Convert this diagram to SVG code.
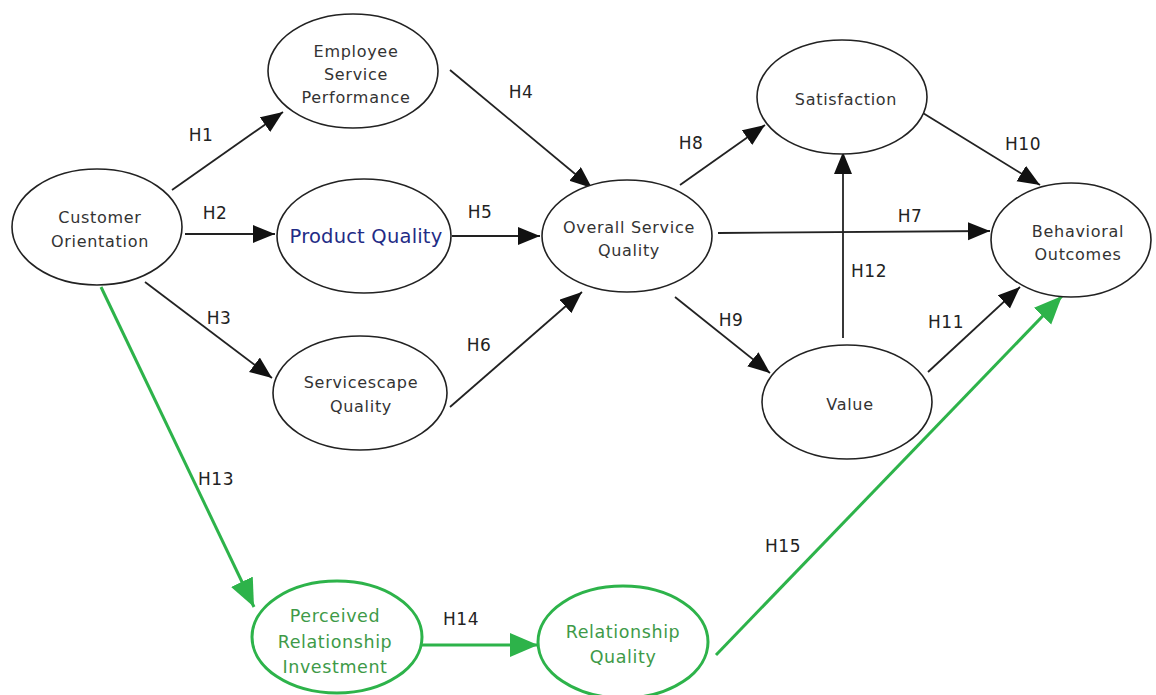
<svg xmlns="http://www.w3.org/2000/svg" width="1156" height="695" viewBox="0 0 1156 695">
  <defs>
    <style>
      .node { fill: #ffffff; stroke: #222222; stroke-width: 1.6; }
      .gnode { fill: #ffffff; stroke: #2db34a; stroke-width: 3; }
      .lbl { font-family: "DejaVu Sans", Verdana, sans-serif; font-size: 16px; fill: #333333; text-anchor: middle; letter-spacing: 0.7px; }
      .glbl { font-family: "DejaVu Sans", Verdana, sans-serif; font-size: 17.5px; fill: #3e9a48; text-anchor: middle; letter-spacing: 0.6px; }
      .h { font-family: "DejaVu Sans", Verdana, sans-serif; font-size: 17px; fill: #222222; text-anchor: middle; letter-spacing: 0.5px; }
      .edge { stroke: #222222; stroke-width: 1.8; fill: none; marker-end: url(#arrow); }
      .gedge { stroke: #2db34a; stroke-width: 3; fill: none; marker-end: url(#garrow); }
    </style>
    <marker id="arrow" markerUnits="userSpaceOnUse" markerWidth="24" markerHeight="20" refX="22" refY="9" orient="auto">
      <path d="M0,0 L22,9 L0,18 z" fill="#111111"/>
    </marker>
    <marker id="garrow" markerUnits="userSpaceOnUse" markerWidth="30" markerHeight="26" refX="28" refY="12" orient="auto">
      <path d="M0,0 L28,12 L0,24 z" fill="#2db34a"/>
    </marker>
  </defs>
  <rect width="1156" height="695" fill="#ffffff"/>

  <!-- connectors -->
  <g id="connectors">
    <line class="edge" x1="172" y1="190" x2="283" y2="112"/>
    <line class="edge" x1="185" y1="234" x2="275" y2="234"/>
    <line class="edge" x1="145" y1="282" x2="272" y2="378"/>
    <line class="edge" x1="450" y1="70" x2="592" y2="188"/>
    <line class="edge" x1="452" y1="236" x2="540" y2="236"/>
    <line class="edge" x1="450" y1="407" x2="582" y2="292"/>
    <line class="edge" x1="680" y1="185" x2="765" y2="125"/>
    <line class="edge" x1="718" y1="233" x2="990" y2="231"/>
    <line class="edge" x1="675" y1="297" x2="770" y2="373"/>
    <line class="edge" x1="905" y1="102" x2="1040" y2="185"/>
    <line class="edge" x1="843" y1="338" x2="843" y2="152"/>
    <line class="edge" x1="928" y1="372" x2="1020" y2="287"/>
    <line class="gedge" x1="101" y1="287" x2="254" y2="607"/>
    <line class="gedge" x1="422" y1="645" x2="538" y2="645"/>
    <line class="gedge" x1="716" y1="655" x2="1062" y2="296"/>

    <text class="h" x="201" y="141">H1</text>
    <text class="h" x="215" y="219">H2</text>
    <text class="h" x="219" y="324">H3</text>
    <text class="h" x="521" y="98">H4</text>
    <text class="h" x="480" y="218">H5</text>
    <text class="h" x="479" y="351">H6</text>
    <text class="h" x="691" y="149">H8</text>
    <text class="h" x="910" y="222">H7</text>
    <text class="h" x="731" y="326">H9</text>
    <text class="h" x="1023" y="150">H10</text>
    <text class="h" x="869" y="277">H12</text>
    <text class="h" x="946" y="328">H11</text>
    <text class="h" x="216" y="485">H13</text>
    <text class="h" x="461" y="625">H14</text>
    <text class="h" x="783" y="552">H15</text>
  </g>

  <g id="customer-orientation">
    <ellipse class="node" cx="97" cy="227" rx="85" ry="58"/>
    <text class="lbl" x="100" y="223">Customer</text>
    <text class="lbl" x="100" y="247">Orientation</text>
  </g>

  <g id="employee-service-performance">
    <ellipse class="node" cx="353" cy="71" rx="85" ry="57"/>
    <text class="lbl" x="356" y="57">Employee</text>
    <text class="lbl" x="356" y="80">Service</text>
    <text class="lbl" x="356" y="103">Performance</text>
  </g>

  <g id="product-quality">
    <ellipse class="node" cx="364" cy="236" rx="87" ry="57" stroke-width="2.4"/>
    <text class="lbl" x="366" y="243" style="font-size:19.5px; fill:#1f2c86; letter-spacing:0.2px">Product Quality</text>
  </g>

  <g id="servicescape-quality">
    <ellipse class="node" cx="360" cy="393" rx="87" ry="57"/>
    <text class="lbl" x="361" y="388">Servicescape</text>
    <text class="lbl" x="361" y="412">Quality</text>
  </g>

  <g id="overall-service-quality">
    <ellipse class="node" cx="627" cy="236" rx="85" ry="56"/>
    <text class="lbl" x="629" y="233">Overall Service</text>
    <text class="lbl" x="629" y="256">Quality</text>
  </g>

  <g id="satisfaction">
    <ellipse class="node" cx="842" cy="97" rx="85" ry="57"/>
    <text class="lbl" x="846" y="105">Satisfaction</text>
  </g>

  <g id="value">
    <ellipse class="node" cx="847" cy="402" rx="85" ry="57"/>
    <text class="lbl" x="850" y="410">Value</text>
  </g>

  <g id="behavioral-outcomes">
    <ellipse class="node" cx="1071" cy="240" rx="80" ry="57"/>
    <text class="lbl" x="1078" y="237">Behavioral</text>
    <text class="lbl" x="1078" y="260">Outcomes</text>
  </g>

  <g id="perceived-relationship-investment">
    <ellipse class="gnode" cx="337" cy="637" rx="85" ry="56"/>
    <text class="glbl" x="335" y="622">Perceived</text>
    <text class="glbl" x="335" y="648">Relationship</text>
    <text class="glbl" x="335" y="673">Investment</text>
  </g>

  <g id="relationship-quality">
    <ellipse class="gnode" cx="623" cy="642" rx="85" ry="56"/>
    <text class="glbl" x="623" y="638">Relationship</text>
    <text class="glbl" x="623" y="663">Quality</text>
  </g>
</svg>
